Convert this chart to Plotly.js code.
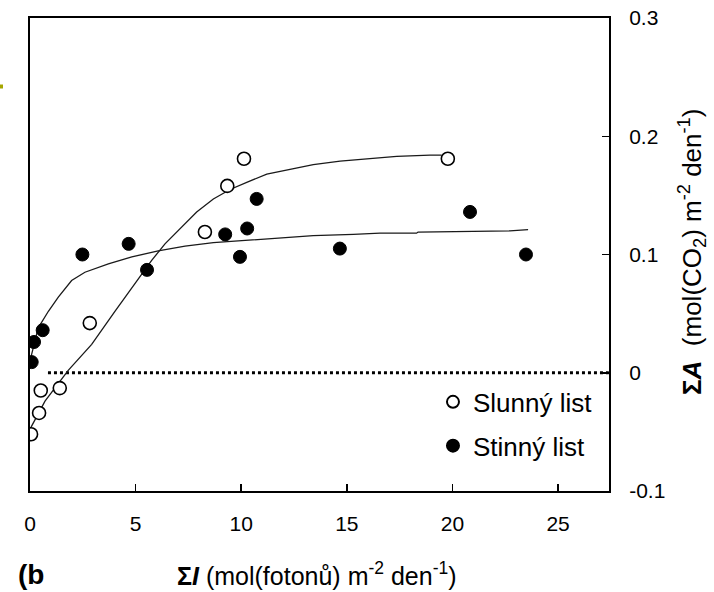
<!DOCTYPE html>
<html>
<head>
<meta charset="utf-8">
<script src="https://cdn.plot.ly/plotly-3.0.1.min.js"></script>
<style>html,body{margin:0;padding:0;background:#fff;}#chart{width:714px;height:592px;}</style>
</head>
<body>
<div id="chart"></div>
<script>
// Measured points: sunny leaf (open circles)
const sunnyX = [0.05, 0.43, 0.51, 1.41, 2.83, 8.28, 9.34, 10.13, 19.78];
const sunnyY = [-0.052, -0.034, -0.015, -0.013, 0.042, 0.119, 0.158, 0.181, 0.181];
// Measured points: shaded leaf (filled circles)
const shadeX = [0.08, 0.19, 0.60, 2.48, 4.67, 5.54, 9.24, 9.94, 10.28, 10.73, 14.67, 20.83, 23.48];
const shadeY = [0.009, 0.026, 0.036, 0.100, 0.109, 0.087, 0.117, 0.098, 0.122, 0.147, 0.105, 0.136, 0.100];
// Fitted curve: sunny leaf
const sunnyFitX = [0.05, 0.71, 1.81, 2.92, 4.02, 4.97, 5.76, 6.39, 7.18, 7.89, 8.68, 9.47, 10.26, 11.21, 12.31, 13.41, 14.68, 15.94, 17.36, 18.94, 19.49];
const sunnyFitY = [-0.046, -0.024, 0.002, 0.024, 0.052, 0.075, 0.095, 0.109, 0.123, 0.136, 0.147, 0.155, 0.161, 0.168, 0.172, 0.176, 0.179, 0.181, 0.183, 0.184, 0.184];
// Fitted curve: shaded leaf
const shadeFitX = [0.0, 0.39, 0.87, 1.34, 1.97, 2.60, 3.71, 4.82, 6.07, 7.34, 8.68, 10.26, 11.84, 13.41, 15.31, 16.57, 18.30, 18.37, 22.72, 23.58];
const shadeFitY = [0.010, 0.038, 0.052, 0.064, 0.078, 0.085, 0.092, 0.098, 0.103, 0.107, 0.110, 0.112, 0.114, 0.116, 0.117, 0.118, 0.118, 0.119, 0.120, 0.121];
// Zero reference (dotted)
const zeroLineX = [0.85, 27.4];
const zeroLineY = [0, 0];
// Axis ticks
const xTicks = [0, 5, 10, 15, 20, 25];
const xTickLabels = ['0', '5', '10', '15', '20', '25'];
const yTicks = [-0.1, 0, 0.1, 0.2, 0.3];
const yTickLabels = ['-0.1', '0', '0.1', '0.2', '0.3'];
const seriesNames = ['Slunný list', 'Stinný list'];

const FONT = 'Arial, "Liberation Sans", sans-serif';

const traces = [
  {x: zeroLineX, y: zeroLineY, mode: 'lines', line: {color: '#000', width: 3, dash: 'dot'}, showlegend: false, hoverinfo: 'skip'},
  {x: sunnyFitX, y: sunnyFitY, mode: 'lines', line: {color: '#1a1a1a', width: 1.3}, showlegend: false, hoverinfo: 'skip'},
  {x: shadeFitX, y: shadeFitY, mode: 'lines', line: {color: '#1a1a1a', width: 1.3}, showlegend: false, hoverinfo: 'skip'},
  {x: sunnyX, y: sunnyY, mode: 'markers', name: seriesNames[0], legendgroup: 'a',
   marker: {symbol: 'circle', size: 13, color: '#fff', line: {color: '#000', width: 1.6}}},
  {x: shadeX, y: shadeY, mode: 'markers', name: seriesNames[1], legendgroup: 'b',
   marker: {symbol: 'circle', size: 13, color: '#000', line: {color: '#000', width: 1}}}
];

const layout = {
  width: 714, height: 592,
  margin: {l: 30, r: 105, t: 18, b: 101, pad: 0},
  paper_bgcolor: '#fff', plot_bgcolor: '#fff',
  font: {family: FONT, color: '#000', size: 21},
  showlegend: true,
  legend: {x: 0.696, xanchor: 'left', y: 0.238, yanchor: 'top', bgcolor: 'rgba(0,0,0,0)',
           font: {family: FONT, size: 26, color: '#000'}, tracegroupgap: 7, itemsizing: 'constant'},
  xaxis: {range: [0, 27.41], tickmode: 'array', tickvals: xTicks, ticktext: xTickLabels,
          ticks: 'inside', ticklen: 7, tickwidth: 1.5, tickcolor: '#000',
          showline: true, linewidth: 2, linecolor: '#000', mirror: true,
          showgrid: false, zeroline: false, ticklabelstandoff: 13,
          tickfont: {family: FONT, size: 21, color: '#000'}},
  yaxis: {range: [-0.1, 0.3], side: 'right', tickmode: 'array', tickvals: yTicks, ticktext: yTickLabels,
          ticks: 'inside', ticklen: 7, tickwidth: 1.5, tickcolor: '#000',
          showline: true, linewidth: 2, linecolor: '#000', mirror: true,
          showgrid: false, zeroline: false, ticklabelstandoff: 14,
          tickfont: {family: FONT, size: 21, color: '#000'}},
  annotations: [
    {xref: 'paper', yref: 'paper', x: (317 - 30) / 579, y: -(574 - 491) / 473, xanchor: 'center', yanchor: 'middle',
     showarrow: false, font: {family: FONT, size: 25, color: '#000'},
     text: '<b>Σ<i>I</i></b> (mol(fotonů) m<sup>-2</sup> den<sup>-1</sup>)'},
    {xref: 'paper', yref: 'paper', x: (16 - 30) / 579, y: -(574 - 491) / 473, xanchor: 'left', yanchor: 'middle',
     showarrow: false, font: {family: FONT, size: 28, color: '#000'}, text: '<b>(b</b>'},
    {xref: 'paper', yref: 'paper', x: (692 - 30) / 579, y: (491 - 252) / 473, xanchor: 'center', yanchor: 'middle',
     textangle: -90, showarrow: false, font: {family: FONT, size: 26, color: '#000'},
     text: '<b>Σ<i>A</i></b>\u00a0 (mol(CO<sub>2</sub>) m<sup>-2</sup> den<sup>-1</sup>)'}
  ],
  shapes: [
    {type: 'rect', xref: 'paper', yref: 'paper', x0: (0 - 30) / 579, x1: (3 - 30) / 579,
     y0: (491 - 88.5) / 473, y1: (491 - 84.5) / 473, fillcolor: '#a6a600', line: {width: 0}}
  ]
};

Plotly.newPlot('chart', traces, layout, {staticPlot: true, displayModeBar: false});
</script>
</body>
</html>
